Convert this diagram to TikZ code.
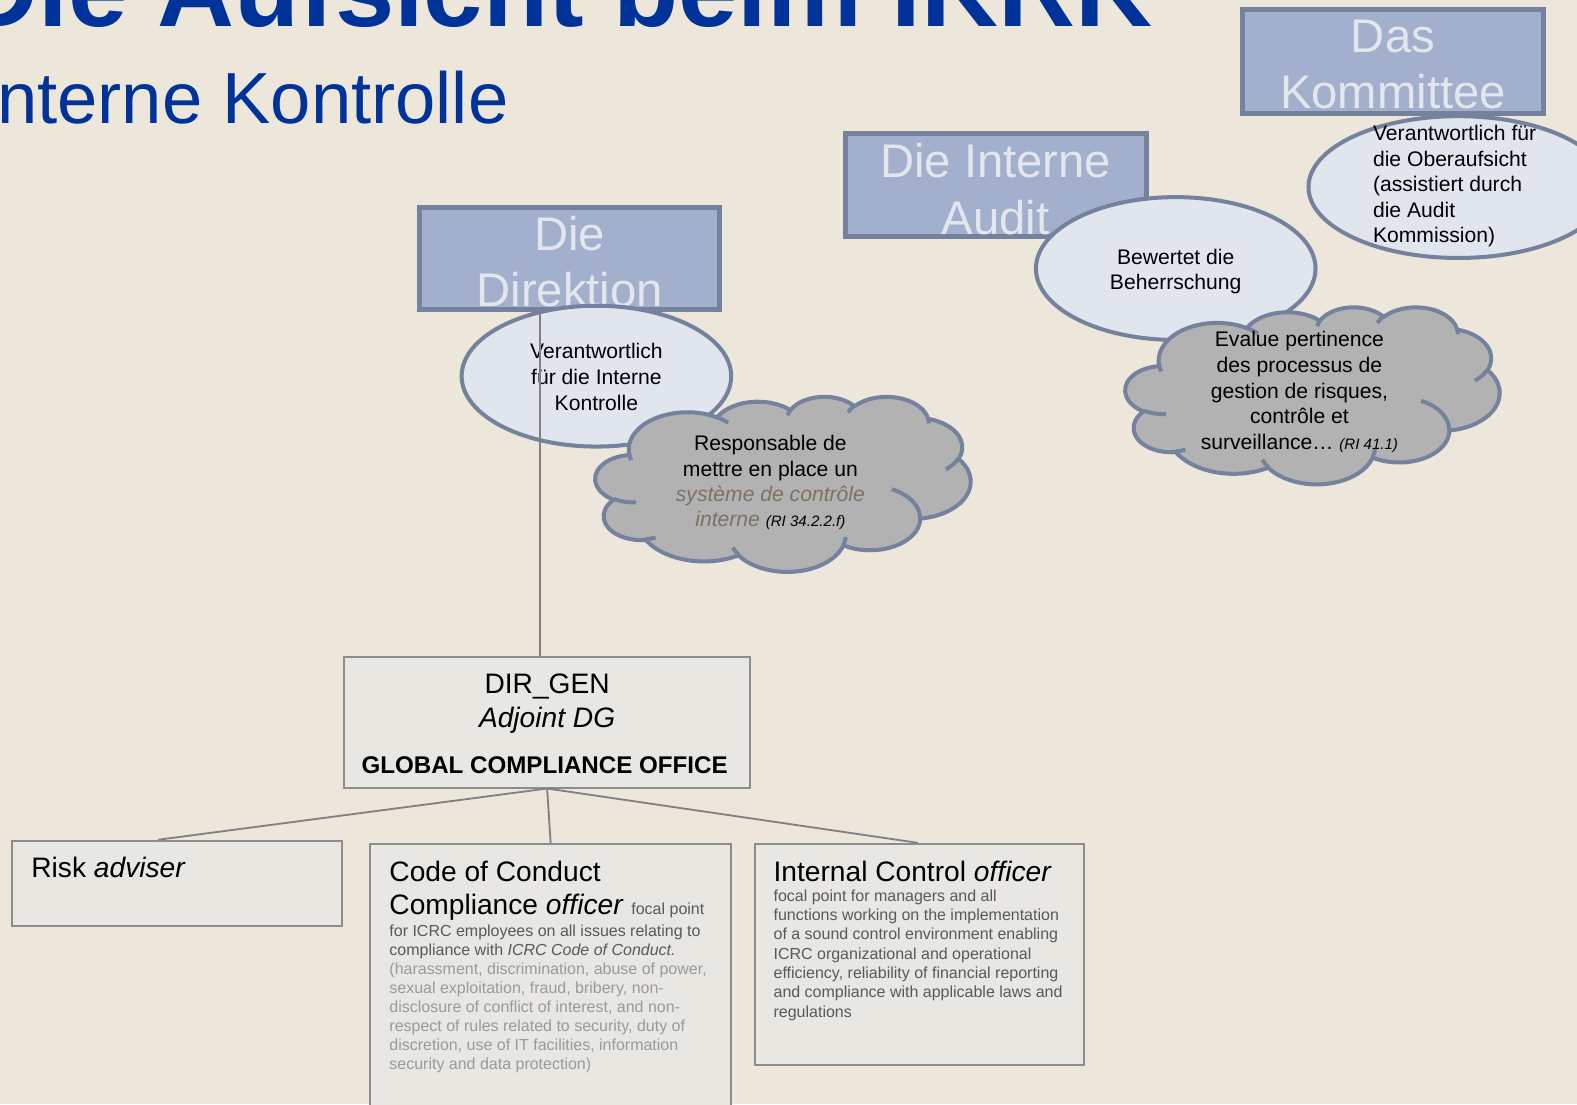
\documentclass[tikz,border=0pt]{standalone}
\usepackage{fontspec}
\setmainfont{Liberation Sans}
\usetikzlibrary{shapes.geometric,calc}
\definecolor{bg}{HTML}{ECE6DB}
\definecolor{titleblue}{HTML}{003399}
\definecolor{boxfill}{HTML}{A2B0CD}
\definecolor{boxedge}{HTML}{75829E}
\definecolor{boxtext}{HTML}{E3E6EC}
\definecolor{ellfill}{HTML}{E1E5EE}
\definecolor{cloudfill}{HTML}{B2B2B2}
\definecolor{orgfill}{HTML}{E9E7E2}
\definecolor{orgedge}{HTML}{8C8C8C}
\definecolor{linegray}{HTML}{808080}
\definecolor{brownish}{HTML}{7D7263}
\definecolor{darktext}{HTML}{595959}
\definecolor{lighttext}{HTML}{9A9A9A}
\newcommand\myfs[2]{\fontsize{#1}{#2}\selectfont}
% arc with visual (DrawingML) angles
\newcommand\cldcalc[4]{%
  \pgfmathsetmacro\cldts{atan2((#1)*sin(#3),(#2)*cos(#3))}%
  \pgfmathsetmacro\cldte{atan2((#1)*sin((#3)+(#4)),(#2)*cos((#3)+(#4)))}%
  \pgfmathsetmacro\clddelta{\cldte-\cldts}%
  \pgfmathsetmacro\clddelta{ifthenelse(\clddelta<0,\clddelta+360,\clddelta)}%
}
\def\cldarc#1#2#3#4{\pgfextra{\cldcalc{#1}{#2}{#3}{#4}} arc[start angle=\cldts, delta angle=\clddelta, x radius=#1, y radius=#2]}
\def\cloudoutline{(390,1437)
  \cldarc{675.3}{919.0}{-190.4875}{123.7805}
  \cldarc{533.3}{726.7}{-144.1024}{89.9452}
  \cldarc{436.5}{594.5}{-145.8079}{99.7230}
  \cldarc{485.7}{659.5}{-130.9861}{117.2417}
  \cldarc{533.3}{727.3}{-78.7089}{109.0269}
  \cldarc{677.5}{922.0}{-46.2673}{130.2690}
  \cldarc{578.5}{786.7}{0.6250}{114.0333}
  \cldarc{675.2}{921.5}{22.4516}{115.1726}
  \cldarc{772.0}{1054.3}{66.2426}{75.7110}
  \cldarc{436.0}{591.8}{-274.9421}{146.7356}
  \cldarc{434.5}{594.5}{-246.8289}{152.5189} -- cycle}
\def\cloudinner{
  (469.3,2617.7) \cldarc{434.5}{594.5}{86.7420}{26.4295}
  (692.8,3489.9) \cldarc{436.0}{591.8}{73.6105}{11.4475}
  (1647.8,3909.0) \cldarc{675.2}{921.5}{137.6242}{14.0811}
  (2882.7,3475.1) \cldarc{675.2}{921.5}{6.4533}{15.9984}
  (3412.9,2295.4) \cldarc{578.5}{786.7}{-70.2924}{70.9174}
  (4179.8,1535.4) \cldarc{533.3}{727.3}{30.3180}{27.7515}
  (3832.4,542.6) \cldarc{485.7}{659.5}{-13.7443}{14.8589}
  (2907.8,395.2) \cldarc{485.7}{659.5}{-149.1815}{18.1954}
  (2214.1,472.0) \cldarc{436.5}{594.5}{-163.4943}{17.6864}
  (1400.0,519.2) \cldarc{675.3}{919.0}{-66.7070}{12.3194}
  (412.7,1578.9) \cldarc{675.3}{919.0}{157.6544}{11.8582}}
\tikzset{
  bluebox/.style={draw=boxedge, line width=5pt, fill=boxfill, rectangle, inner sep=0pt},
  bluetext/.style={text=boxtext, font=\myfs{47}{56}, inner sep=0pt, anchor=base},
  ellbox/.style={draw=boxedge, line width=4pt, fill=ellfill, ellipse, inner sep=0pt},
  cloudline/.style={draw=boxedge, line width=4pt, line join=round},
  ltext/.style={font=\myfs{21}{25}, inner sep=0pt},
  orgbox/.style={draw=orgedge, line width=2pt, fill=orgfill, rectangle, inner sep=0pt},
  orghead/.style={font=\myfs{28}{33}, inner sep=0pt, anchor=base west},
  orgbody/.style={font=\myfs{15.9}{19}, inner sep=0pt, anchor=base west},
  conn/.style={draw=linegray, line width=1.8pt}
}
\begin{document}
\begin{tikzpicture}[x=1pt,y=-1pt]
\clip (0,0) rectangle (1568,1098);
\fill[bg] (0,0) rectangle (1568,1098);

% titles
\node[inner sep=0pt, anchor=base west, text=titleblue, font=\bfseries\myfs{106}{120}] (title) at (-38,26) {Die Aufsicht beim IKRK};
\node[inner sep=0pt, anchor=base west, text=titleblue, font=\myfs{72}{86}] (subtitle) at (-23,123) {Interne Kontrolle};

% blue boxes
\node[bluebox, minimum width=298pt, minimum height=101pt] (dirbox) at (566.5,257) {};
\node[bluetext] (dirt1) at (566.5,249) {Die};
\node[bluetext] (dirt2) at (566.5,305) {Direktion};

\node[bluebox, minimum width=299pt, minimum height=103pt] (audbox) at (990,184) {};
\node[bluetext] (audt1) at (990,176) {Die Interne};
\node[bluetext] (audt2) at (990,233) {Audit};

\node[bluebox, minimum width=299pt, minimum height=103pt] (kombox) at (1385,61) {};
\node[bluetext] (komt1) at (1385,52) {Das};
\node[bluetext] (komt2) at (1385,108) {Kommittee};

% ellipses
\node[ellbox, minimum width=268pt, minimum height=140pt] (direll) at (593,374) {};
\foreach \t [count=\i] in {{Verantwortlich},{für die Interne},{Kontrolle}}
  \node[ltext, anchor=base] (dire\i) at (593,{356+26*(\i-1)}) {\t};

\node[ellbox, minimum width=278pt, minimum height=142pt] (audell) at (1169,267) {};
\foreach \t [count=\i] in {{Bewertet die},{Beherrschung}}
  \node[ltext, anchor=base] (aude\i) at (1169,{263+25*(\i-1)}) {\t};

\node[ellbox, minimum width=298pt, minimum height=141pt] (komell) at (1450,186) {};
\foreach \t [count=\i] in {{Verantwortlich für},{die Oberaufsicht},{(assistiert durch},{die Audit},{Kommission)}}
  \node[ltext, anchor=base west] (kome\i) at (1365,{140+25.3*(\i-1)}) {\t};

% vertical connector start
\coordinate (vtop) at (537,312);

% clouds
\coordinate (dircloud) at (778.5,481);
\begin{scope}[shift={(592pt,-394pt)}, x=0.086343pt, y=-0.040278pt]
  \filldraw[cloudline, fill=cloudfill] \cloudoutline;
  \draw[cloudline] \cloudinner;
\end{scope}
\foreach \t [count=\i] in {{Responsable de},{mettre en place un},{\itshape\color{brownish}système de contrôle},{{\itshape\color{brownish}interne} {\myfs{15}{18}\itshape (RI 34.2.2.f)}}}
  \node[ltext, anchor=base] (dirc\i) at (766,{448+25.3*(\i-1)}) {\t};

\coordinate (audcloud) at (1305,393);
\begin{scope}[shift={(1119pt,-305pt)}, x=0.086111pt, y=-0.040741pt]
  \filldraw[cloudline, fill=cloudfill] \cloudoutline;
  \draw[cloudline] \cloudinner;
\end{scope}
\foreach \t [count=\i] in {{Evalue pertinence},{des processus de},{gestion de risques,},{contrôle et},{surveillance… {\myfs{15}{18}\itshape (RI 41.1)}}}
  \node[ltext, anchor=base] (audc\i) at (1292,{345+25.5*(\i-1)}) {\t};

% org boxes
\node[orgbox, minimum width=404pt, minimum height=130pt] (dirgen) at (544,718) {};
\node[inner sep=0pt, anchor=base, font=\myfs{28}{33}] (dg1) at (544,690) {DIR\_GEN};
\node[inner sep=0pt, anchor=base, font=\itshape\myfs{28}{33}] (dg2) at (544,723) {Adjoint DG};
\node[inner sep=0pt, anchor=base, font=\bfseries\myfs{24}{28}] (dg3) at (541.5,769) {GLOBAL COMPLIANCE OFFICE};

\draw[draw=linegray, line width=1.5pt] (vtop) -- (vtop |- dirgen.north);

\node[orgbox, minimum width=328pt, minimum height=85pt] (risk) at (176,878.5) {};
\node[orghead] (riskt) at (31,872) {Risk \textit{adviser}};

\node[orgbox, minimum width=359pt, minimum height=272pt] (code) at (547.5,975) {};
\node[orghead] (codet1) at (387,876) {Code of Conduct};
\node[orghead] (codet2) at (387,909) {Compliance \textit{officer} {\color{darktext}\myfs{15.9}{19}focal point}};
\foreach \t [count=\i] in {{\color{darktext}for ICRC employees on all issues relating to},{\color{darktext}compliance with \textit{ICRC Code of Conduct.}},{\color{lighttext}(harassment, discrimination, abuse of power,},{\color{lighttext}sexual exploitation, fraud, bribery, non-},{\color{lighttext}disclosure of conflict of interest, and non-},{\color{lighttext}respect of rules related to security, duty of},{\color{lighttext}discretion, use of IT facilities, information},{\color{lighttext}security and data protection)}}
  \node[orgbody] (codeb\i) at (387,{931+18.9*(\i-1)}) {\t};

\node[orgbox, minimum width=327pt, minimum height=220pt] (ic) at (914.5,949) {};
\node[orghead] (ict1) at (769,876) {Internal Control \textit{officer}};
\foreach \t [count=\i] in {{focal point for managers and all},{functions working on the implementation},{of a sound control environment enabling},{ICRC organizational and operational},{efficiency, reliability of financial reporting},{and compliance with applicable laws and},{regulations}}
  \node[orgbody, text=darktext] (icb\i) at (769,{896+19.2*(\i-1)}) {\t};

% connectors
\draw[conn] (dirgen.south) -- ([xshift=-19pt]risk.north);
\draw[conn] (dirgen.south) -- (code.north);
\draw[conn] (dirgen.south) -- ([xshift=-2pt]ic.north);
\end{tikzpicture}
\end{document}
